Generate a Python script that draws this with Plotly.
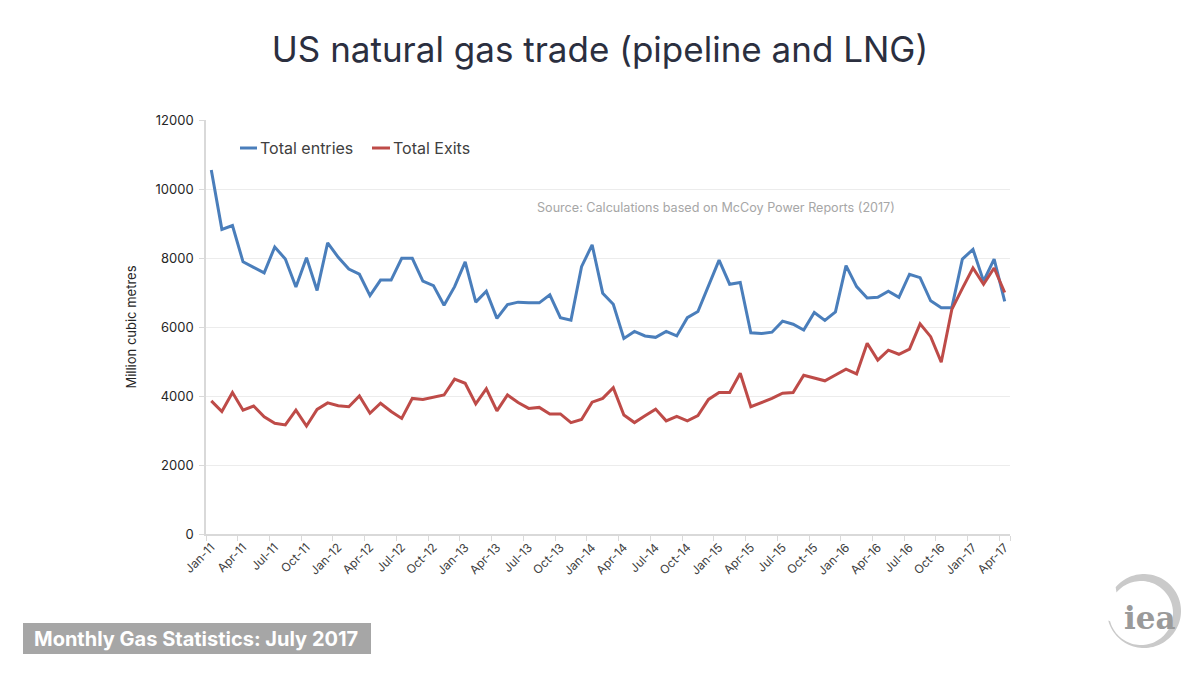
import numpy as np
import plotly.graph_objects as go

# ---- data ----
months = ["Jan", "Feb", "Mar", "Apr", "May", "Jun", "Jul", "Aug", "Sep", "Oct", "Nov", "Dec"]
period_labels = [f"{months[m]}-{y}" for y in range(11, 18) for m in range(12)][:76]

total_entries = [
    10550, 8830, 8940, 7890, 7730, 7570, 8320, 7970, 7160, 8010, 7060, 8440,
    8020, 7680, 7530, 6910, 7360, 7360, 7990, 7990, 7330, 7200, 6630, 7170,
    7890, 6720, 7040, 6250, 6650, 6720, 6700, 6700, 6930, 6270, 6200, 7750,
    8380, 6980, 6660, 5670, 5870, 5740, 5700, 5870, 5740, 6270, 6450, 7220,
    7940, 7240, 7290, 5830, 5810, 5850, 6170, 6080, 5910, 6420, 6190, 6440,
    7780, 7170, 6840, 6860, 7040, 6860, 7530, 7430, 6760, 6560, 6560, 7970,
    8250, 7330, 7970, 6740,
]
total_exits = [
    3860, 3550, 4100, 3590, 3710, 3400, 3210, 3160, 3590, 3130, 3610, 3800,
    3720, 3690, 4000, 3500, 3790, 3550, 3350, 3930, 3900, 3960, 4030, 4490,
    4370, 3770, 4210, 3570, 4030, 3810, 3640, 3670, 3480, 3480, 3230, 3320,
    3820, 3930, 4240, 3450, 3230, 3430, 3620, 3280, 3410, 3280, 3430, 3900,
    4100, 4100, 4660, 3690, 3810, 3930, 4080, 4100, 4600, 4510, 4440, 4610,
    4780, 4640, 5530, 5040, 5330, 5210, 5360, 6090, 5720, 4980, 6510, 7120,
    7710, 7240, 7710, 7000,
]
tick_idx = list(range(0, 76, 3))
tick_labels = [period_labels[i] for i in tick_idx]
y_ticks = [0, 2000, 4000, 6000, 8000, 10000, 12000]
y_tick_labels = ["0", "2000", "4000", "6000", "8000", "10000", "12000"]

series_names = ["Total entries", "Total Exits"]
series_colors = ["#4a7ebb", "#be4b48"]

FONT = "Inter"
x = list(range(len(period_labels)))

fig = go.Figure()
for name, vals, col in zip(series_names, [total_entries, total_exits], series_colors):
    fig.add_trace(go.Scatter(
        x=x, y=vals, mode="lines", name=name,
        line=dict(color=col, width=3),
        customdata=period_labels[:len(vals)],
        hovertemplate="%{customdata}: %{y}<extra>" + name + "</extra>",
        showlegend=False,
    ))

# plot area geometry (px)
L, R, T, B = 206, 1010, 120, 534
W, H = R - L, B - T
def px(xp):
    return (xp - L) / W
def py(yp):
    return (B - yp) / H

shapes = []
annotations = []

# manual legend
legend_items = [(240, 257, 258), (372, 390, 391)]
for (x0, x1, xt), name, col in zip(legend_items, series_names, series_colors):
    shapes.append(dict(type="line", xref="paper", yref="paper",
                       x0=px(x0), x1=px(x1), y0=py(148), y1=py(148),
                       line=dict(color=col, width=3)))
    annotations.append(dict(xref="paper", yref="paper", x=px(xt), y=py(148),
                            text=name, showarrow=False, xanchor="left", yanchor="middle",
                            font=dict(family=FONT, size=16, color="#404040")))

# source note
annotations.append(dict(xref="paper", yref="paper", x=px(716), y=py(208),
                        text="Source: Calculations based on McCoy Power Reports (2017)",
                        showarrow=False, xanchor="center", yanchor="middle",
                        font=dict(family=FONT, size=12.6, color="#a6a6a6")))

# bottom banner
shapes.append(dict(type="rect", xref="paper", yref="paper",
                   x0=px(23), x1=px(371), y0=py(654), y1=py(623),
                   fillcolor="#a6a6a6", line=dict(width=0), layer="below"))
annotations.append(dict(xref="paper", yref="paper", x=px(196), y=py(638.5),
                        text="<b>Monthly Gas Statistics: July 2017</b>",
                        showarrow=False, xanchor="center", yanchor="middle",
                        font=dict(family=FONT, size=20, color="#ffffff")))

# IEA logo (crescent ring + text)
cx, cy, r_out = 1144, 611, 37
icx, icy, r_in = 1141, 613, 32
a = np.linspace(np.deg2rad(140), np.deg2rad(140 - 305), 90)  # clockwise in screen
outer = [(cx + r_out * np.cos(t), cy - r_out * np.sin(t)) for t in a]
inner = [(icx + r_in * np.cos(t), icy - r_in * np.sin(t)) for t in a[::-1]]
pts = outer + inner
path = "M " + " L ".join(f"{px(p[0]):.5f},{py(p[1]):.5f}" for p in pts) + " Z"
shapes.append(dict(type="path", xref="paper", yref="paper", path=path,
                   fillcolor="#cacaca", line=dict(width=0)))
annotations.append(dict(xref="paper", yref="paper", x=px(1150), y=py(618),
                        text="<b>iea</b>", showarrow=False, xanchor="center", yanchor="middle",
                        font=dict(family="DejaVu Serif", size=31, color="#9a9a9a")))

fig.update_layout(
    width=1200, height=674,
    margin=dict(l=L, r=1200 - R, t=T, b=674 - B, pad=0),
    paper_bgcolor="white", plot_bgcolor="white",
    title=dict(text="US natural gas trade (pipeline and LNG)", x=0.5, xanchor="center",
               y=1 - 50 / 674, yanchor="middle", yref="container",
               font=dict(family=FONT, size=35, color="#2b2f3f")),
    font=dict(family=FONT, size=13, color="#404040"),
    shapes=shapes, annotations=annotations,
    showlegend=False,
)
fig.update_xaxes(
    range=[-0.5, len(period_labels) - 0.5],
    tickmode="array", tickvals=tick_idx, ticktext=tick_labels, tickangle=-45,
    ticks="", showgrid=False, zeroline=False,
    showline=True, linecolor="#d9d9d9", linewidth=1.5,
    tickfont=dict(family=FONT, size=12, color="#404040"),
    minor=dict(ticks="outside", tickmode="array",
               tickvals=[i - 0.5 for i in tick_idx] + [len(period_labels) - 0.5],
               ticklen=5, tickcolor="#d9d9d9", tickwidth=1, showgrid=False),
)
fig.update_yaxes(
    range=[0, 12000], tickmode="array", tickvals=y_ticks, ticktext=y_tick_labels,
    showgrid=True, gridcolor="#ececec", gridwidth=1, zeroline=False,
    showline=True, linecolor="#d9d9d9", linewidth=1.5,
    ticks="outside", ticklen=5, tickcolor="#d9d9d9",
    ticklabelstandoff=3,
    tickfont=dict(family=FONT, size=13, color="#262626"),
    title=dict(text="Million cubic metres", standoff=16,
               font=dict(family=FONT, size=13, color="#262626")),
)

fig.write_html("out.html", config={"displayModeBar": False},
               post_script="document.body.style.margin='0';document.body.style.overflow='hidden';")
